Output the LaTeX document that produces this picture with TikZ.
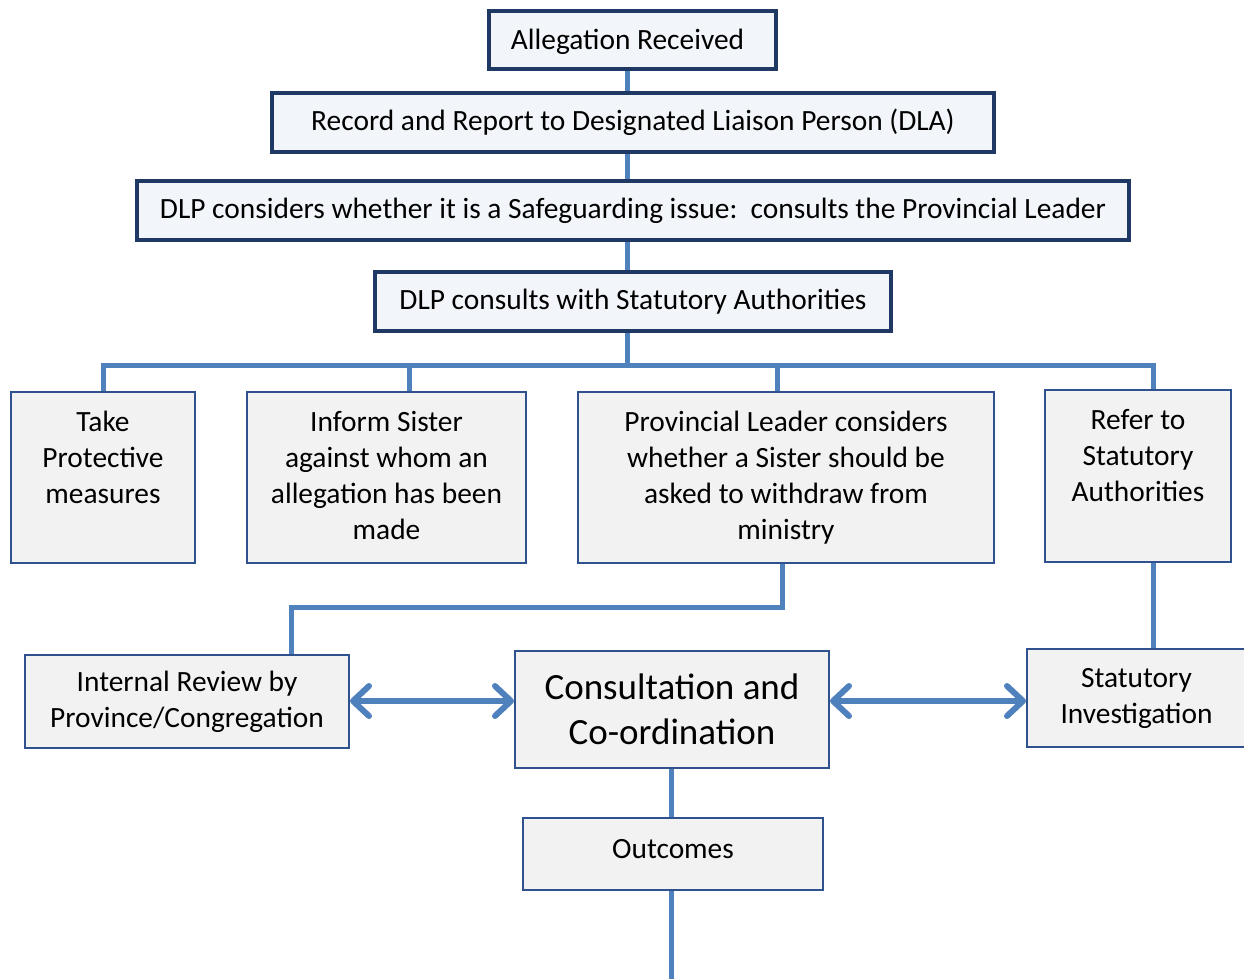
\documentclass[tikz,border=0pt]{standalone}
\usepackage{fontspec}
\setmainfont{Carlito}
\usetikzlibrary{arrows.meta,positioning}

\newlength{\du}
\setlength{\du}{1pt}

\definecolor{navyline}{RGB}{31,56,100}
\definecolor{topfill}{RGB}{242,246,250}
\definecolor{rowline}{RGB}{47,82,143}
\definecolor{rowfill}{RGB}{242,242,242}
\definecolor{linkblue}{RGB}{79,129,189}

\tikzset{
  topbox/.style={draw=navyline, fill=topfill, line width=4\du, inner sep=0pt,
    font=\fontsize{29.4}{36}\selectfont},
  rowbox/.style={draw=rowline, fill=rowfill, line width=2\du, inner sep=0pt,
    align=center, font=\fontsize{29.4}{36}\selectfont},
  rowtxt/.style={inner sep=0pt, align=center, font=\fontsize{29.4}{36}\selectfont},
  conn/.style={draw=linkblue, line width=5\du},
  barb/.tip={Straight Barb[length=16pt,width=30pt,line cap=round,line join=round]},
  twoway/.style={conn, line width=6\du, barb-barb}
}

\begin{document}
\begin{tikzpicture}
\useasboundingbox (0,0) rectangle (1244\du,-979\du);
% top of the chart
\coordinate (spine) at (627\du,0);
\node[topbox, minimum width=287\du, minimum height=58\du] (alleg) at (632.5\du,-40\du) {};
\node[inner sep=0pt, font=\fontsize{29.4}{36}\selectfont] (alleg-t) at (627.5\du,-42\du) {Allegation Received};
\node[topbox, minimum width=722\du, minimum height=59\du] (record) at (633\du,-122.5\du) {Record and Report to Designated Liaison Person (DLA)};
\node[topbox, minimum width=992\du, minimum height=59\du] (considers) at (633\du,-210.5\du) {DLP considers whether it is a Safeguarding issue:\ \ consults the Provincial Leader};
\node[topbox, minimum width=516\du, minimum height=59\du] (consults) at (633\du,-301.5\du) {DLP consults with Statutory Authorities};
\draw[conn] (alleg.south -| spine) -- (record.north -| spine);
\draw[conn] (record.south -| spine) -- (considers.north -| spine);
\draw[conn] (considers.south -| spine) -- (consults.north -| spine);

% the four actions
\node[rowbox, minimum width=184\du, minimum height=171\du] (take) at (103\du,-477.5\du) {};
\node[rowtxt] (take-t) at (103\du,-457\du) {Take\\Protective\\measures};
\node[rowbox, minimum width=279\du, minimum height=171\du] (inform) at (386.5\du,-477.5\du) {};
\node[rowtxt] (inform-t) at (386.5\du,-475\du) {Inform Sister\\against whom an\\allegation has been\\made};
\node[rowbox, minimum width=416\du, minimum height=171\du] (prov) at (786\du,-477.5\du) {};
\node[rowtxt] (prov-t) at (786\du,-478\du) {Provincial Leader considers\\whether a Sister should be\\asked to withdraw from\\ministry};
\node[rowbox, minimum width=186\du, minimum height=172\du] (refer) at (1138\du,-476\du) {};
\node[rowtxt] (refer-t) at (1138\du,-456\du) {Refer to\\Statutory\\Authorities};

\coordinate (busL) at (103\du,-365\du);
\coordinate (busA) at (409\du,-365\du);
\coordinate (busB) at (777\du,-365\du);
\coordinate (busR) at (1153\du,-365\du);
\draw[conn] (consults.south -| spine) -- (busL -| spine);
\draw[conn] (take.north -| busL) -- (busL) -- (busR) -- (refer.north -| busR);
\draw[conn] (busA) -- (inform.north -| busA);
\draw[conn] (busB) -- (prov.north -| busB);

% review and investigation
\node[rowbox, minimum width=324\du, minimum height=93\du] (review) at (187\du,-701.5\du) {Internal Review by\\Province/Congregation};
\node[rowbox, minimum width=314\du, minimum height=117\du, font=\fontsize{37}{45}\selectfont] (coord) at (672\du,-709.5\du) {Consultation and\\Co-ordination};
\node[rowbox, minimum width=219\du, minimum height=98\du] (stat) at (1136.5\du,-698\du) {Statutory\\Investigation};
\node[rowbox, minimum width=300\du, minimum height=72\du, text depth=10\du] (outc) at (673\du,-854\du) {Outcomes};

\coordinate (elbowA) at (782\du,-607\du);
\coordinate (elbowB) at (291\du,-607\du);
\draw[conn] (prov.south -| elbowA) -- (elbowA) -- (elbowB) -- (review.north -| elbowB);
\draw[conn] (refer.south -| busR) -- (stat.north -| busR);
\coordinate (arrY) at (0,-701\du);
\draw[twoway] (review.east |- arrY) -- (coord.west |- arrY);
\draw[twoway] (coord.east |- arrY) -- (stat.west |- arrY);
\coordinate (stem) at (671\du,-979\du);
\draw[conn] (coord.south -| stem) -- (outc.north -| stem);
\draw[conn] (outc.south -| stem) -- (stem);
\end{tikzpicture}
\end{document}
